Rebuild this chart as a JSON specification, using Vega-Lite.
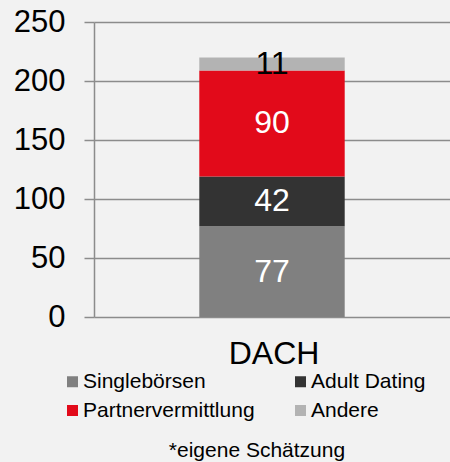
{
  "$schema": "https://vega.github.io/schema/vega-lite/v6.json",
  "width": 356,
  "height": 295,
  "autosize": {"type": "none"},
  "padding": {"left": 94, "top": 22, "right": 0, "bottom": 145},
  "background": "#f2f2f2",
  "config": {
    "font": "Liberation Sans",
    "view": {"stroke": null},
    "axis": {"labelFont": "Liberation Sans", "labelColor": "#000000"}
  },
  "title": {
    "text": "*eigene Schätzung",
    "orient": "bottom",
    "anchor": "middle",
    "fontSize": 21,
    "fontWeight": "normal",
    "color": "#000000",
    "font": "Liberation Sans",
    "dx": -15,
    "offset": 19
  },
  "data": {
    "values": [
      {"region": "DACH", "category": "Singlebörsen", "value": 77, "order": 1},
      {"region": "DACH", "category": "Adult Dating", "value": 42, "order": 2},
      {"region": "DACH", "category": "Partnervermittlung", "value": 90, "order": 3},
      {"region": "DACH", "category": "Andere", "value": 11, "order": 4}
    ]
  },
  "encoding": {
    "x": {
      "field": "region",
      "type": "nominal",
      "scale": {"paddingInner": 0.42, "paddingOuter": 0.42},
      "axis": {
        "title": null,
        "labelAngle": 0,
        "labelFontSize": 32,
        "labelPadding": 21,
        "labelOffset": 2,
        "ticks": false,
        "domain": false
      }
    },
    "y": {
      "field": "value",
      "type": "quantitative",
      "aggregate": "sum",
      "stack": "zero",
      "scale": {"domain": [0, 250], "nice": false},
      "axis": {
        "title": null,
        "values": [0, 50, 100, 150, 200, 250],
        "labelFontSize": 31,
        "labelPadding": 19,
        "tickSize": 10,
        "tickColor": "#8c8c8c",
        "tickWidth": 1.5,
        "gridColor": "#8c8c8c",
        "gridWidth": 1.5,
        "gridOpacity": 1,
        "domain": true,
        "domainColor": "#8c8c8c",
        "domainWidth": 1.5
      }
    },
    "order": {"field": "order", "type": "quantitative"}
  },
  "layer": [
    {
      "mark": {"type": "bar"},
      "encoding": {
        "color": {
          "field": "category",
          "type": "nominal",
          "sort": ["Singlebörsen", "Adult Dating", "Partnervermittlung", "Andere"],
          "scale": {
            "domain": ["Singlebörsen", "Adult Dating", "Partnervermittlung", "Andere"],
            "range": ["#808080", "#333333", "#e20a1a", "#b3b3b3"]
          },
          "legend": {
            "title": null,
            "orient": "none",
            "legendX": -32,
            "legendY": 349,
            "columns": 2,
            "direction": "horizontal",
            "symbolType": "square",
            "symbolSize": 121,
            "symbolStrokeWidth": 0,
            "symbolOpacity": 1,
            "labelFontSize": 21,
            "labelFont": "Liberation Sans",
            "labelColor": "#000000",
            "labelOffset": 0,
            "columnPadding": 35,
            "rowPadding": 7,
            "padding": 0,
            "labelLimit": 300
          }
        }
      }
    },
    {
      "mark": {"type": "text", "fontSize": 32, "font": "Liberation Sans"},
      "encoding": {
        "y": {
          "field": "value",
          "type": "quantitative",
          "aggregate": "sum",
          "stack": "zero",
          "bandPosition": 0.5
        },
        "text": {"field": "value", "type": "quantitative", "aggregate": "sum"},
        "detail": {"field": "category", "type": "nominal"},
        "color": {
          "condition": {"test": "datum.category === 'Andere'", "value": "#000000"},
          "value": "#ffffff"
        }
      }
    }
  ]
}
